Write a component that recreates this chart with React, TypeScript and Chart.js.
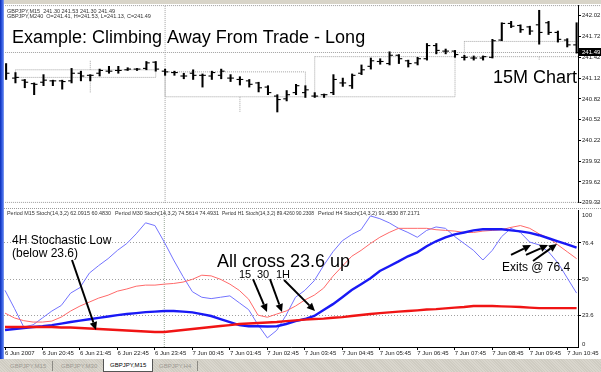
import React, { useEffect, useRef } from "react";
import { Chart, registerables } from "chart.js";

Chart.register(...registerables);

// ---------------- data ----------------
const TIME_LABELS = [
  "6 Jun 2007", "6 Jun 20:45", "6 Jun 21:45", "6 Jun 22:45", "6 Jun 23:45",
  "7 Jun 00:45", "7 Jun 01:45", "7 Jun 02:45", "7 Jun 03:45", "7 Jun 04:45",
  "7 Jun 05:45", "7 Jun 06:45", "7 Jun 07:45", "7 Jun 08:45", "7 Jun 09:45", "7 Jun 10:45",
];
const BARS_PER_LABEL = 4;

const OPEN = [241.23, 241.12, 241.09, 241.04, 241.06, 241.08, 241.08, 241.08, 241.19, 241.16,
  241.19, 241.22, 241.23, 241.24, 241.25, 241.26, 241.35, 241.22, 241.20, 241.15,
  241.19, 241.16, 241.15, 241.16, 241.12, 241.10, 241.08, 241.05, 240.99, 240.86,
  240.82, 240.91, 240.91, 240.86, 240.88, 240.91, 241.05, 241.01, 241.19, 241.29,
  241.36, 241.33, 241.45, 241.37, 241.34, 241.40, 241.59, 241.51, 241.51, 241.42,
  241.41, 241.41, 241.42, 241.67, 241.91, 241.88, 241.86, 241.89, 241.92, 241.78,
  241.67, 241.60];
const HIGH = [241.33, 241.20, 241.10, 241.05, 241.17, 241.09, 241.09, 241.26, 241.22, 241.17,
  241.25, 241.29, 241.29, 241.27, 241.26, 241.36, 241.36, 241.25, 241.22, 241.19,
  241.24, 241.18, 241.22, 241.25, 241.17, 241.14, 241.10, 241.06, 241.01, 240.88,
  240.94, 241.03, 241.01, 240.91, 240.89, 241.17, 241.12, 241.18, 241.31, 241.41,
  241.40, 241.50, 241.46, 241.38, 241.42, 241.62, 241.62, 241.54, 241.52, 241.45,
  241.44, 241.44, 241.68, 241.92, 241.94, 241.89, 241.87, 242.10, 241.94, 241.80,
  241.69, 241.92];
const LOW = [241.10, 241.05, 240.98, 240.88, 241.01, 241.01, 240.96, 241.05, 241.08, 241.08,
  241.15, 241.19, 241.19, 241.23, 241.23, 241.24, 241.22, 241.16, 241.16, 241.11,
  241.10, 240.99, 241.10, 241.11, 241.07, 241.02, 240.99, 240.92, 240.88, 240.63,
  240.79, 240.88, 240.84, 240.84, 240.84, 240.88, 241.00, 240.97, 241.17, 241.25,
  241.32, 241.31, 241.33, 241.28, 241.31, 241.38, 241.47, 241.47, 241.42, 241.38,
  241.38, 241.38, 241.41, 241.66, 241.85, 241.78, 241.75, 241.61, 241.75, 241.64,
  241.57, 241.48];
const CLOSE = [241.19, 241.13, 241.06, 241.03, 241.09, 241.08, 241.07, 241.19, 241.15, 241.16,
  241.23, 241.22, 241.23, 241.25, 241.25, 241.34, 241.25, 241.21, 241.20, 241.15,
  241.16, 241.16, 241.20, 241.22, 241.12, 241.10, 241.03, 240.98, 240.91, 240.81,
  240.88, 241.01, 240.95, 240.86, 240.88, 241.10, 241.05, 241.16, 241.24, 241.37,
  241.36, 241.45, 241.40, 241.33, 241.40, 241.59, 241.52, 241.51, 241.46, 241.42,
  241.41, 241.43, 241.66, 241.91, 241.87, 241.82, 241.80, 241.78, 241.78, 241.68,
  241.60, 241.49];

const PRICE_TICKS = [242.02, 241.72, 241.42, 241.12, 240.82, 240.52, 240.22, 239.92, 239.62, 239.32];
const PRICE_MIN = 239.316;
const PRICE_MAX = 242.175;
const BID = 241.49;

const HEADER_M15 = "GBPJPY,M15  241.30 241.53 241.30 241.49";
const HEADER_M240 = "GBPJPY,M240  O=241.41, H=241.53, L=241.13, C=241.49";
const TITLE = "Example: Climbing Away From Trade - Long";
const SUBTITLE = "15M Chart";

// H4 candles overlaid on the M15 chart
const H4_FIRST_BAR = [1, 17, 33, 49];
const H4_LAST_BAR = [16, 32, 48, 64];
const H4_MID_BAR = [9, 25, 41, 57];
const H4_BODY_TOP = [241.24, 241.21, 241.43, 241.65];
const H4_BODY_BOTTOM = [241.13, 240.85, 240.85, 241.43];
const H4_HIGH = [241.37, 241.21, 241.43, 242.10];
const H4_LOW = [240.91, 240.63, 240.85, 241.38];

const DAY_SEPARATOR_BAR = 17;

const STOCH_M15 = [42, 29, 15.4, 17, 22, 27, 31, 40, 44, 54.5, 60, 65, 71, 76, 83, 91, 89, 77, 64, 52,
  41, 37, 36, 37, 38, 33, 28, 17, 7.5, 13, 24, 37, 42, 49, 60, 70, 78, 82.5, 86, 96,
  94, 91, 87, 84, 80.5, 85.5, 88, 87, 81, 76, 71, 64, 71, 81, 87, 84, 77, 75, 70, 62, 51, 40];
const STOCH_M30 = [25.5, 22, 20, 19, 19, 19.7, 22.6, 27, 30.6, 33.5, 36.4, 38.5, 41.4, 43, 45, 45.8,
  45.8, 46.5, 47, 48, 50, 53, 52.5, 50, 46.5, 42, 35.6, 24, 22.5, 24.8, 27, 30.6, 35, 38.5,
  43.6, 52.3, 59.5, 66.7, 71, 76, 80.5, 84, 87, 87, 87, 87, 86, 85.5, 85, 84, 84, 85, 85.5,
  86, 87.7, 89, 87, 83, 80, 75, 70, 65];
const STOCH_H1 = [13.2, 14, 14.7, 15.4, 16, 16.8, 17.9, 19, 20, 21, 22, 23, 24, 24.8, 25.5, 26.2,
  26.6, 27, 27, 26.6, 26, 24.8, 23.4, 21.2, 19, 16.8, 16, 16, 15.8, 16, 17.6, 19.7, 21.2,
  23.4, 27.7, 32, 37, 42.2, 46.5, 50.8, 56, 59.5, 63, 66.7, 69.6, 74, 77.6, 80.5, 82.6, 84,
  85.5, 86.3, 86.3, 86.3, 85.5, 84.8, 83.7, 82, 79.8, 77.6, 75.4, 73];
const STOCH_H4 = [15.4, 15.4, 15.4, 15.4, 15.4, 15.4, 15.0, 15.0, 14.7, 14.3, 14.0, 13.6, 13.2, 12.9,
  12.5, 12.1, 11.8, 11.8, 12.5, 13.2, 14.0, 14.7, 15.4, 16.1, 16.8, 17.6, 17.9, 18.3, 18.7,
  19.0, 19.7, 20.2, 20.8, 21.2, 21.5, 22.1, 22.6, 23.4, 24.1, 24.8, 25.5, 26.0, 26.6, 27.0,
  27.5, 28.1, 28.4, 28.9, 29.5, 29.9, 30.6, 30.6, 30.6, 30.4, 30.2, 29.9, 29.5, 29.1, 29.1,
  29.1, 29.1, 29.1];
const STOCH_LEVELS = [23.6, 50, 76.4];
const STOCH_AXIS_LABELS = [100, 76.4, 50, 23.6, 0];
const STOCH_MIN = 0.9;
const STOCH_MAX = 100.3;
const STOCH_LEGEND = [
  "Period M15 Stoch(14,3,2) 62.0915 60.4830",
  "Period M30 Stoch(14,3,2) 74.5614 74.4931",
  "Period H1 Stoch(14,3,2) 89.4260 90.2308",
  "Period H4 Stoch(14,3,2) 91.4530 87.2171",
];

// annotation arrows: [fromBar, fromValue, toBar, toValue] on the stochastic panel
const ARROWS = [
  [7.15, 64.0, 9.71, 13.2],
  [26.47, 50.2, 27.96, 26.3],
  [28.28, 50.2, 29.56, 26.3],
  [29.78, 49.5, 33.08, 27.0],
  [54.0, 67.7, 56.14, 74.9],
  [55.6, 67.7, 57.95, 74.9],
  [56.35, 63.3, 58.9, 75.6],
];

const TABS = ["GBPJPY,M15", "GBPJPY,M30", "GBPJPY,M15", "GBPJPY,H4"];
const ACTIVE_TAB = 2;

// ---------------- layout ----------------
const W = 601;
const X_MIN = -0.107;
const X_MAX = 61.15;
const PLOT_LEFT = 4;
const AXIS_W = 23;
const UPPER_H = 208;
const LOWER_TOP = 208;
const LOWER_H = 151;
const TICK_SHIFT = 0.2;

const NOTES = [
  { text: "4H Stochastic Low", x: 12, y: 244, size: 12 },
  { text: "(below 23.6)", x: 12, y: 257, size: 12 },
  { text: "All cross 23.6 up", x: 217, y: 266.5, size: 18 },
  { text: "15", x: 239, y: 278, size: 11 },
  { text: "30", x: 257, y: 278, size: 11 },
  { text: "1H", x: 276, y: 278, size: 11 },
  { text: "Exits @ 76.4", x: 502, y: 271, size: 12 },
];
const LEGEND_POS = [
  { x: 7, w: 104 },
  { x: 115, w: 104 },
  { x: 222, w: 92 },
  { x: 318, w: 108 },
];

const FONT = "Arial, 'Liberation Sans', sans-serif";

function drawArrow(ctx: CanvasRenderingContext2D, x1: number, y1: number, x2: number, y2: number) {
  const ang = Math.atan2(y2 - y1, x2 - x1);
  const head = 8;
  const hw = 3.8;
  const bx = x2 - Math.cos(ang) * head;
  const by = y2 - Math.sin(ang) * head;
  ctx.beginPath();
  ctx.moveTo(x1, y1);
  ctx.lineTo(bx, by);
  ctx.stroke();
  ctx.beginPath();
  ctx.moveTo(x2, y2);
  ctx.lineTo(bx + Math.sin(ang) * hw, by - Math.cos(ang) * hw);
  ctx.lineTo(bx - Math.sin(ang) * hw, by + Math.cos(ang) * hw);
  ctx.closePath();
  ctx.fill();
}

export default function App() {
  const upperRef = useRef<HTMLCanvasElement | null>(null);
  const lowerRef = useRef<HTMLCanvasElement | null>(null);

  useEffect(() => {
    if (!upperRef.current || !lowerRef.current) return;

    // ---------- upper (price) chart ----------
    const hlData = HIGH.map((h, i) => ({ x: i, y: [LOW[i], h] }));
    const openData = OPEN.map((o, i) => ({ x: i - TICK_SHIFT, y: o }));
    const closeData = CLOSE.map((c, i) => ({ x: i + TICK_SHIFT, y: c }));
    const boxData: any[] = [];
    const wickData: any[] = [];
    H4_FIRST_BAR.forEach((a, k) => {
      const b = H4_LAST_BAR[k];
      const t = H4_BODY_TOP[k];
      const btm = H4_BODY_BOTTOM[k];
      boxData.push({ x: a, y: t }, { x: b, y: t }, { x: b, y: btm }, { x: a, y: btm }, { x: a, y: t }, { x: a, y: null });
      const m = H4_MID_BAR[k];
      wickData.push({ x: m, y: t }, { x: m, y: H4_HIGH[k] }, { x: m, y: null },
        { x: m, y: btm }, { x: m, y: H4_LOW[k] }, { x: m, y: null });
    });

    const dotted = {
      type: "line" as const,
      borderColor: "#a4a4a4",
      borderWidth: 1,
      borderDash: [1, 1],
      pointRadius: 0,
      fill: false,
      tension: 0,
      spanGaps: false,
    };

    const upperDecor = {
      id: "upperDecor",
      afterDraw(chart: any) {
        const { ctx, chartArea, scales } = chart;
        ctx.save();
        ctx.strokeStyle = "#9c9c9c";
        ctx.lineWidth = 1;
        ctx.setLineDash([1, 1]);
        ctx.beginPath();
        ctx.moveTo(chartArea.left, chartArea.top + 0.5);
        ctx.lineTo(W, chartArea.top + 0.5);
        ctx.moveTo(chartArea.left, chartArea.bottom - 0.5);
        ctx.lineTo(W, chartArea.bottom - 0.5);
        ctx.stroke();
        ctx.setLineDash([]);

        ctx.fillStyle = "#333";
        ctx.font = `5.5px ${FONT}`;
        ctx.textBaseline = "middle";
        ctx.fillText(HEADER_M15, 7, 11, 108);
        ctx.fillText(HEADER_M240, 7, 16, 155);

        ctx.fillStyle = "#000";
        ctx.font = `18px ${FONT}`;
        ctx.textBaseline = "alphabetic";
        ctx.fillText(TITLE, 12, 43);
        ctx.fillText(SUBTITLE, 493, 83);

        const yb = scales.y.getPixelForValue(BID);
        ctx.fillStyle = "#000";
        ctx.fillRect(chartArea.right + 1, Math.round(yb) - 4, 22, 8);
        ctx.fillStyle = "#fff";
        ctx.font = `6px ${FONT}`;
        ctx.textBaseline = "middle";
        ctx.fillText(BID.toFixed(2), chartArea.right + 4, yb);
        ctx.restore();
      },
    };

    const tickStyle = {
      type: "line",
      showLine: false,
      pointStyle: "line",
      pointRadius: 1.5,
      pointBorderWidth: 1.1,
      pointBorderColor: "#000",
      order: 0,
    };

    const upper = new Chart(upperRef.current, {
      type: "line",
      data: {
        datasets: [
          { ...dotted, data: boxData, order: 5 },
          { ...dotted, data: wickData, order: 6 },
          { ...dotted, borderColor: "#a0a0a0", data: [{ x: X_MIN, y: BID }, { x: X_MAX, y: BID }], order: 7 },
          { ...dotted, borderColor: "#a0a0a0", data: [{ x: DAY_SEPARATOR_BAR, y: PRICE_MIN }, { x: DAY_SEPARATOR_BAR, y: PRICE_MAX }], order: 8 },
          {
            type: "bar",
            data: hlData as any,
            backgroundColor: "#000",
            borderWidth: 0,
            barThickness: 1.4,
            grouped: false,
            order: 1,
          } as any,
          { ...tickStyle, data: openData } as any,
          { ...tickStyle, data: closeData } as any,
        ],
      },
      options: {
        responsive: false,
        animation: false,
        events: [],
        layout: { padding: { left: PLOT_LEFT, top: 5, right: 0, bottom: 0 } },
        plugins: { legend: { display: false }, tooltip: { enabled: false } },
        scales: {
          x: {
            type: "linear",
            min: X_MIN,
            max: X_MAX,
            offset: false,
            display: false,
          },
          y: {
            type: "linear",
            position: "right",
            min: PRICE_MIN,
            max: PRICE_MAX,
            afterBuildTicks: (s: any) => {
              s.ticks = PRICE_TICKS.map((v) => ({ value: v }));
            },
            afterFit: (s: any) => {
              s.width = AXIS_W;
            },
            ticks: {
              autoSkip: false,
              color: "#222",
              padding: 1,
              font: { size: 6, family: FONT },
              callback: (v: any) => Number(v).toFixed(2),
            },
            grid: { drawOnChartArea: false, tickLength: 3, tickColor: "#000" },
            border: { color: "#000", width: 1 },
          },
        },
      } as any,
      plugins: [upperDecor],
    });

    // ---------- lower (stochastic) chart ----------
    const toXY = (arr: number[]) => arr.map((v, i) => ({ x: i, y: v }));

    const lowerDecor = {
      id: "lowerDecor",
      afterDraw(chart: any) {
        const { ctx, chartArea, scales } = chart;
        ctx.save();
        ctx.strokeStyle = "#9c9c9c";
        ctx.lineWidth = 1;
        ctx.setLineDash([1, 1]);
        ctx.beginPath();
        ctx.moveTo(chartArea.left, 0.5);
        ctx.lineTo(W, 0.5);
        ctx.stroke();
        ctx.setLineDash([]);

        ctx.fillStyle = "#333";
        ctx.font = `5.5px ${FONT}`;
        ctx.textBaseline = "middle";
        STOCH_LEGEND.forEach((t, k) => ctx.fillText(t, LEGEND_POS[k].x, 213 - LOWER_TOP, LEGEND_POS[k].w));

        ctx.fillStyle = "#222";
        ctx.font = `6px ${FONT}`;
        STOCH_AXIS_LABELS.forEach((v) => {
          let y = scales.y.getPixelForValue(v);
          y = Math.max(chartArea.top + 5, Math.min(chartArea.bottom - 3, y));
          ctx.fillText(String(v), chartArea.right + 4, y);
        });

        ctx.fillStyle = "#000";
        ctx.textBaseline = "alphabetic";
        NOTES.forEach((n) => {
          ctx.font = `${n.size}px ${FONT}`;
          ctx.fillText(n.text, n.x, n.y - LOWER_TOP);
        });

        ctx.strokeStyle = "#000";
        ctx.fillStyle = "#000";
        ctx.lineWidth = 2;
        ARROWS.forEach(([a, va, b, vb]) => {
          drawArrow(
            ctx,
            scales.x.getPixelForValue(a),
            scales.y.getPixelForValue(va),
            scales.x.getPixelForValue(b),
            scales.y.getPixelForValue(vb)
          );
        });
        ctx.restore();
      },
    };

    const lower = new Chart(lowerRef.current, {
      type: "line",
      data: {
        datasets: [
          { type: "line", data: toXY(STOCH_H4), borderColor: "rgb(240,20,20)", borderWidth: 2.4, pointRadius: 0, tension: 0, order: 0 },
          { type: "line", data: toXY(STOCH_H1), borderColor: "rgb(25,25,245)", borderWidth: 2.4, pointRadius: 0, tension: 0, order: 1 },
          { type: "line", data: toXY(STOCH_M30), borderColor: "rgb(255,105,105)", borderWidth: 1, pointRadius: 0, tension: 0, order: 2 },
          { type: "line", data: toXY(STOCH_M15), borderColor: "rgb(115,115,255)", borderWidth: 1, pointRadius: 0, tension: 0, order: 3 },
          {
            ...dotted,
            borderColor: "#98a898",
            data: [{ x: DAY_SEPARATOR_BAR, y: STOCH_MIN }, { x: DAY_SEPARATOR_BAR, y: STOCH_MAX }],
            order: 4,
          },
        ] as any,
      },
      options: {
        responsive: false,
        animation: false,
        events: [],
        layout: { padding: { left: PLOT_LEFT, top: 2, right: 0, bottom: 0 } },
        plugins: { legend: { display: false }, tooltip: { enabled: false } },
        scales: {
          x: {
            type: "linear",
            min: X_MIN,
            max: X_MAX,
            offset: false,
            position: "bottom",
            afterBuildTicks: (s: any) => {
              s.ticks = TIME_LABELS.map((_, k) => ({ value: k * BARS_PER_LABEL }));
            },
            afterFit: (s: any) => {
              s.height = 12;
            },
            ticks: {
              autoSkip: false,
              maxRotation: 0,
              minRotation: 0,
              align: "start",
              padding: 0,
              color: "#222",
              font: { size: 6, family: FONT },
              callback: (v: any) => TIME_LABELS[Math.round(Number(v) / BARS_PER_LABEL)] ?? "",
            },
            grid: { drawOnChartArea: false, tickLength: 3, tickColor: "#000", offset: false },
            border: { color: "#000", width: 1 },
          },
          y: {
            type: "linear",
            position: "right",
            min: STOCH_MIN,
            max: STOCH_MAX,
            afterBuildTicks: (s: any) => {
              s.ticks = STOCH_LEVELS.map((v) => ({ value: v }));
            },
            afterFit: (s: any) => {
              s.width = AXIS_W;
            },
            ticks: { display: false },
            grid: { drawOnChartArea: true, color: "#a0a0a0", tickLength: 3, tickColor: "#000", lineWidth: 1 },
            border: { color: "#000", width: 1, dash: [1, 2] },
          },
        },
      } as any,
      plugins: [lowerDecor],
    });

    return () => {
      upper.destroy();
      lower.destroy();
    };
  }, []);

  const tabStyle = (left: number, active: boolean): React.CSSProperties => ({
    position: "absolute",
    left,
    top: active ? 0 : 2,
    height: active ? 12 : 10,
    padding: "0 6px",
    font: `6px ${FONT}`,
    lineHeight: active ? "12px" : "10px",
    color: active ? "#000" : "#9d9a92",
    background: active ? "#fff" : "transparent",
    borderLeft: active ? "1px solid #555" : "none",
    borderRight: active ? "1px solid #555" : "1px solid #8c8a84",
    borderBottom: active ? "1px solid #555" : "none",
    whiteSpace: "nowrap",
  });
  const tabLefts = [4, 55, 103, 153];

  return (
    <div
      style={{
        position: "absolute",
        left: 0,
        top: 0,
        width: W,
        height: 372,
        background: "#fff",
        overflow: "hidden",
        fontFamily: FONT,
      }}
    >
      <div style={{ position: "absolute", left: 0, top: 0, width: W, height: 4, background: "#d8d4c8" }} />
      <canvas
        ref={upperRef}
        width={W}
        height={UPPER_H}
        style={{ position: "absolute", left: 0, top: 0, width: W, height: UPPER_H }}
      />
      <canvas
        ref={lowerRef}
        width={W}
        height={LOWER_H}
        style={{ position: "absolute", left: 0, top: LOWER_TOP, width: W, height: LOWER_H }}
      />
      <div
        style={{
          position: "absolute",
          left: 0,
          top: 0,
          width: 4,
          height: 359,
          background: "linear-gradient(to right, #0a2db8, #3c64e6 60%, #8aa2ee)",
        }}
      />
      <div
        style={{
          position: "absolute",
          left: 0,
          top: 359,
          width: W,
          height: 13,
          background: "repeating-linear-gradient(45deg, #d9d6cd 0px, #d9d6cd 1px, #cfccc2 1px, #cfccc2 2px)",
        }}
      >
        {TABS.map((t, k) => (
          <div key={k} style={tabStyle(tabLefts[k], k === ACTIVE_TAB)}>
            {t}
          </div>
        ))}
      </div>
    </div>
  );
}
